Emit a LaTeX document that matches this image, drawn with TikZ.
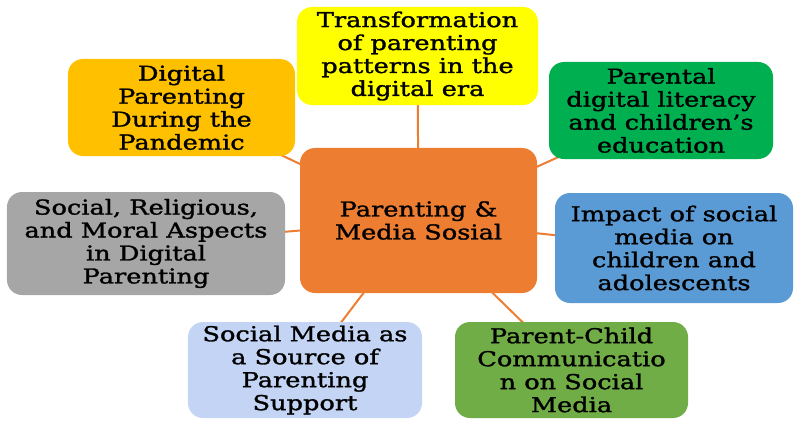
\documentclass[tikz,border=0pt]{standalone}
\usepackage{fontspec}
\setmainfont{DejaVu Serif}[FakeStretch=1.25,UprightFeatures={FakeBold=1.4}]
\usetikzlibrary{backgrounds}
\definecolor{sarga}{RGB}{255,255,0}
\definecolor{arany}{RGB}{255,192,0}
\definecolor{zold}{RGB}{0,176,80}
\definecolor{narancs}{RGB}{237,125,49}
\definecolor{szurke}{RGB}{166,166,166}
\definecolor{kek}{RGB}{91,155,213}
\definecolor{vkek}{RGB}{196,212,245}
\definecolor{fzold}{RGB}{112,173,71}
\tikzset{
  kartya/.style={rounded corners=0.45cm,align=center,inner sep=2pt,
    font=\fontsize{17.5}{19.6}\selectfont},
  vonal/.style={draw=narancs,line width=1.7pt},
}

\begin{document}
\begin{tikzpicture}[x=0.03cm,y=-0.03cm]
  \useasboundingbox (0,0) rectangle (794,420);
  \node[kartya,fill=narancs,minimum width=7.11cm,minimum height=4.35cm] (kozep) at (418.5,220.5) {Parenting \&\\Media Sosial};
  \node[kartya,fill=sarga,minimum width=7.23cm,minimum height=2.94cm] (atal) at (417.5,56) {Transformation\\of parenting\\patterns in the\\digital era};
  \node[kartya,fill=arany,minimum width=6.81cm,minimum height=2.91cm] (pand) at (181.5,107.5) {Digital\\Parenting\\During the\\Pandemic};
  \node[kartya,fill=zold,minimum width=6.72cm,minimum height=2.91cm] (irast) at (661,110.5) {Parental\\digital literacy\\and children's\\education};
  \node[kartya,fill=szurke,minimum width=8.34cm,minimum height=3.09cm] (erkolcs) at (146,243.5) {Social, Religious,\\and Moral Aspects\\in Digital\\Parenting};
  \node[kartya,fill=kek,minimum width=7.14cm,minimum height=3.3cm] (hatas) at (674,248) {Impact of social\\media on\\children and\\adolescents};
  \node[kartya,fill=vkek,minimum width=7.02cm,minimum height=2.88cm] (tamasz) at (305,370) {Social Media as\\a Source of\\Parenting\\Support};
  \node[kartya,fill=fzold,minimum width=6.99cm,minimum height=2.88cm] (kapcs) at (571.5,370) {Parent-Child\\Communicatio\\n on Social\\Media};
  \begin{scope}[on background layer]
    \foreach \n in {atal,pand,irast,erkolcs,hatas,tamasz,kapcs}
      \draw[vonal] (kozep.center) -- (\n.center);
  \end{scope}
\end{tikzpicture}
\end{document}
